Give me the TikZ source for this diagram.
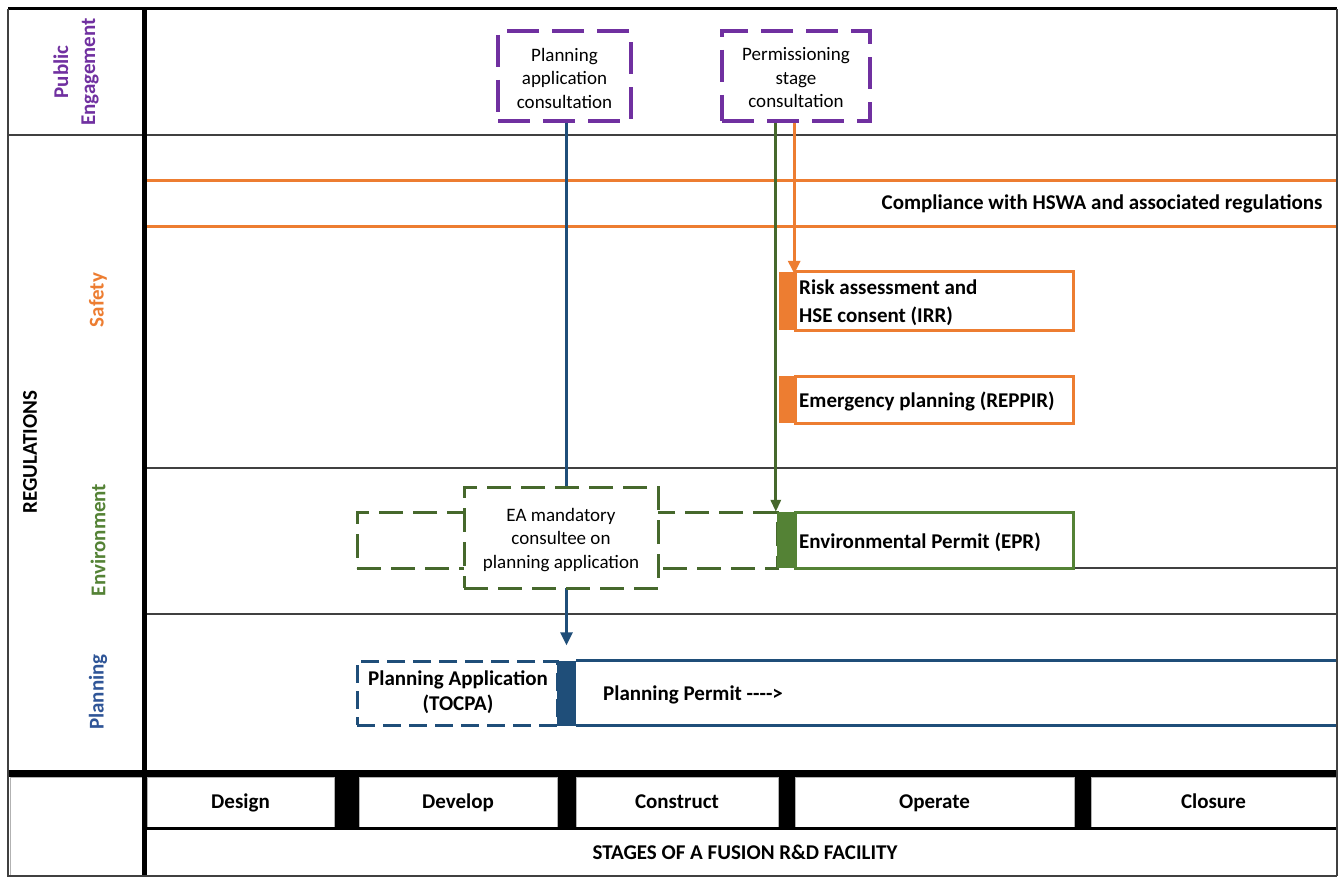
\documentclass[tikz,border=0pt]{standalone}
\usepackage{fontspec}
\setmainfont{Carlito}
\usetikzlibrary{arrows.meta,calc}
\definecolor{cpurple}{HTML}{7030A0}
\definecolor{corange}{HTML}{ED7D31}
\definecolor{cgreen}{HTML}{548235}
\definecolor{cdgreen}{HTML}{46682C}
\definecolor{cblue}{HTML}{1F4E79}
\definecolor{clblue}{HTML}{2F5597}
\definecolor{cgrid}{HTML}{404040}
\begin{document}
\begin{tikzpicture}[x=1pt,y=-1pt,
  txt/.style={font=\fontsize{19}{23.5}\selectfont},
  btxt/.style={font=\fontsize{21}{25}\selectfont\bfseries},
  sep/.style={draw=cgrid,line width=1.5pt},
  pubbox/.style={draw=cpurple,line width=3.5pt,dash pattern=on 32pt off 13pt,inner sep=0pt},
  greendash/.style={draw=cdgreen,line width=3pt,dash pattern=on 24pt off 10pt,inner sep=0pt},
  bluedash/.style={draw=cblue,line width=3pt,dash pattern=on 18pt off 8pt,inner sep=0pt},
  permit/.style={line width=3pt,fill=white,inner sep=0pt,minimum width=278pt},
  ptext/.style={btxt,anchor=base west,inner sep=0pt,align=left},
  bar/.style={inner sep=0pt,draw=none},
  stagebox/.style={draw=gray!60,line width=1pt,fill=white,inner sep=0pt,minimum height=50pt,btxt,text height=14pt,text depth=2pt},
  vlab/.style={rotate=90,btxt,align=center},
]
\useasboundingbox (0,0) rectangle (1341,877);
\fill[white] (0,0) rectangle (1341,877);

% grid lines
\draw[sep] (8,135) -- (1337,135);
\draw[sep] (147,468) -- (1337,468);
\draw[sep] (147,614) -- (1337,614);
\draw[sep] (1073,568) -- (1337,568);
\coordinate (rE) at (1337,0);

% left labels
\node[vlab,text=cpurple,font=\fontsize{21}{27}\selectfont\bfseries] (lpub) at (76,72) {Public\\Engagement};
\node[vlab,text=black] (lreg) at (30,452) {REGULATIONS};
\node[vlab,text=corange] (lsaf) at (98,300) {Safety};
\node[vlab,text=cgreen] (lenv) at (98,540) {Environment};
\node[vlab,text=clblue] (lpla) at (98,692) {Planning};

% safety compliance lines
\draw[corange,line width=3pt] (147,181) -- (1337,181);
\draw[corange,line width=3pt] (147,227) -- (1337,227);
\node[btxt,anchor=east] (hswa) at (1326,204) {Compliance with HSWA and associated regulations};

% public engagement boxes
\node[pubbox,minimum width=133pt,minimum height=90pt] (pac) at (564.5,76) {};
\node[txt,align=center] (pact) at (564.5,78) {Planning\\application\\consultation};
\node[pubbox,minimum width=148pt,minimum height=90pt] (psc) at (796,76) {};
\node[txt,align=center] (psct) at (796,78) {Permissioning\\stage\\consultation};

% safety boxes
\node[bar,fill=corange,minimum width=16pt,minimum height=58pt] (rbar) at (787,301) {};
\node[permit,draw=corange,minimum height=58pt] (risk) at (934,301) {};
\node[ptext,font=\fontsize{21}{28}\selectfont\bfseries,anchor=north west] (riskt) at (799,280) {Risk assessment and\\HSE consent (IRR)};
\node[bar,fill=corange,minimum width=16pt,minimum height=47pt] (ebar) at (787,399.5) {};
\node[permit,draw=corange,minimum height=47pt] (emer) at (934,399.5) {};
\node[ptext] (emert) at (799,407) {Emergency planning (REPPIR)};

% environment
\node[greendash,minimum width=420pt,minimum height=56pt] (eawide) at (567,540) {};
\node[bar,fill=cgreen,minimum width=18pt,minimum height=56pt] (gbar) at (786,540) {};
\node[permit,draw=cgreen,minimum height=56pt] (epr) at (934,540) {};
\node[ptext] (eprt) at (799,548) {Environmental Permit (EPR)};

% planning
\node[bar,fill=cblue,minimum width=19pt,minimum height=65pt] (pbar) at (566.5,693) {};
\node[bluedash,minimum width=200pt,minimum height=64pt] (tocpa) at (457,693) {};
\node[btxt,align=center] (tocpat) at (458,692) {Planning Application\\(TOCPA)};
\draw[cblue,line width=3pt] (pbar.north east) -- (pbar.north east -| rE);
\draw[cblue,line width=3pt] (pbar.south east) -- (pbar.south east -| rE);
\node[ptext] (ppermit) at (603,700) {Planning Permit -{}-{}-{}->};

% blue connector (behind EA box)
\draw[cblue,line width=3pt,-{Triangle[width=12pt,length=13pt]},shorten >=15pt] (pbar.north |- pac.south) -- (pbar.north);
\node[greendash,fill=white,minimum width=194pt,minimum height=101pt] (ea) at (561,537.5) {};
\node[txt,align=center] (eat) at (561,540) {EA mandatory\\consultee on\\planning application};

% green and orange connectors
\draw[cdgreen,line width=3pt,-{Triangle[width=10pt,length=12pt]}] ([xshift=-1pt]gbar.north west |- psc.south) -- ([xshift=-1pt]gbar.north west);
\draw[corange,line width=3pt,-{Triangle[width=12pt,length=13pt]}] ([xshift=-1pt]rbar.north east |- psc.south) -- ([xshift=-1pt,yshift=-2pt]rbar.north east);

% stages
\draw[black,line width=7pt] (8,773.5) -- (1337,773.5);
\fill[black] (334,777) rectangle (359,828);
\fill[black] (557,777) rectangle (576,828);
\fill[black] (778,777) rectangle (795,828);
\fill[black] (1074,777) rectangle (1091,828);
\node[stagebox,minimum width=187pt] (sdes) at (240.5,802) {Design};
\node[stagebox,minimum width=198pt] (sdev) at (458,802) {Develop};
\node[stagebox,minimum width=202pt] (scon) at (677,802) {Construct};
\node[stagebox,minimum width=279pt] (sope) at (934.5,802) {Operate};
\node[stagebox,minimum width=245pt] (sclo) at (1213.5,802) {Closure};
\draw[black,line width=3pt] (147,828.5) -- (1337,828.5);
\node[btxt] (stages) at (745,852) {STAGES OF A FUSION R\&D FACILITY};
\draw[gray!60,line width=1pt] (10,777) rectangle (142,875);

% outer frame
\draw[black,line width=5pt] (144.5,9) -- (144.5,877);
\draw[black,line width=3pt] (8,9) -- (1337,9);
\draw[cgrid,line width=2pt] (8,9) -- (8,876) -- (1337,876);
\draw[cgrid,line width=2.5pt] (1337,9) -- (1337,876);
\end{tikzpicture}
\end{document}
